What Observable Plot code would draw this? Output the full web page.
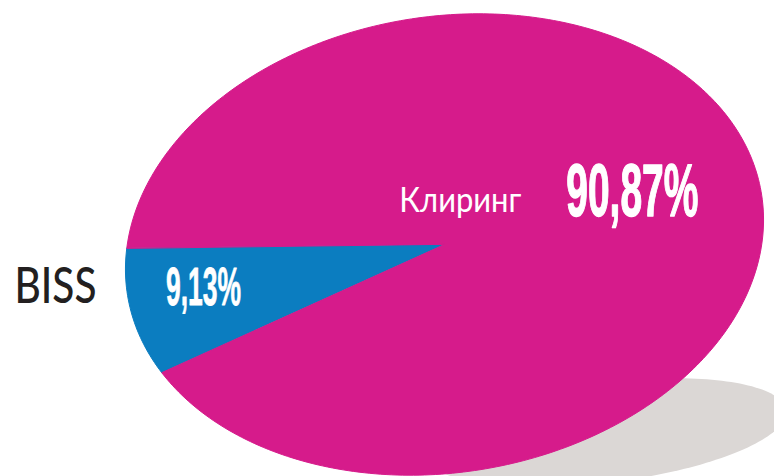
<!DOCTYPE html>
<html>
<head>
<meta charset="utf-8">
<script src="https://cdn.jsdelivr.net/npm/d3@7"></script>
<script src="https://cdn.jsdelivr.net/npm/@observablehq/plot@0.6"></script>
<style>
  html, body { margin: 0; padding: 0; background: #ffffff; }
  #chart svg { display: block; }
</style>
</head>
<body>
<div id="chart"></div>
<script>
// ---- data ----
const categories = ["BISS", "Клиринг"];
const shares = [9.13, 90.87];
const valueLabels = ["9,13%", "90,87%"];

// ---- styles / layout ----
const colors = ["#0b7dc0", "#d61b8b"];
const W = 774, H = 476;
const deg = Math.PI / 180;
const pieGeom = {cx: 444, cy: 244, a: 321, b: 228, tilt: 9 * deg, start: 168.3 * deg};
const shadowGeom = {cx: 605, cy: 432, a: 182, b: 50, tilt: 7 * deg, start: 0};
const valueRadius = [0.77, 0.6];
const valueDy = [-9, -11];
const valueSize = [53, 74];
const valueStroke = [0.8, 1.4];
const textWidths = [75, 132, 122, 82]; // small value, large value, inside category, outside category

function ellPoint(g, t, r = 1) {
  const u = r * g.a * Math.cos(t), v = r * g.b * Math.sin(t);
  const c = Math.cos(g.tilt), s = Math.sin(g.tilt);
  return [g.cx + u * c - v * s, g.cy - (u * s + v * c)];
}

// slices from the data
const total = d3.sum(shares);
let cum = 0;
const slices = categories.map((cat, i) => {
  const t0 = pieGeom.start + 2 * Math.PI * cum / total;
  cum += shares[i];
  const t1 = pieGeom.start + 2 * Math.PI * cum / total;
  return {cat, i, t0, t1, mid: (t0 + t1) / 2};
});

const slicePts = [];
for (const s of slices) {
  const [x0, y0] = ellPoint(pieGeom, 0, 0);
  slicePts.push({cat: s.cat, x: x0, y: y0});
  const n = Math.max(2, Math.ceil((s.t1 - s.t0) / deg));
  for (let k = 0; k <= n; ++k) {
    const [x, y] = ellPoint(pieGeom, s.t0 + (s.t1 - s.t0) * k / n);
    slicePts.push({cat: s.cat, x, y});
  }
}

const shadowPts = d3.range(0, 360, 2).map(d => {
  const [x, y] = ellPoint(shadowGeom, d * deg);
  return {x, y};
});

const valueData = slices.map(s => {
  const [x, y] = ellPoint(pieGeom, s.mid, valueRadius[s.i]);
  return {cat: s.cat, label: valueLabels[s.i], x, y};
});
const bissAnchor = ellPoint(pieGeom, slices[0].mid, 1);

const chart = Plot.plot({
  width: W,
  height: H,
  margin: 0,
  x: {domain: [0, W], axis: null},
  y: {domain: [H, 0], axis: null},
  color: {domain: categories, range: colors},
  style: {background: "#ffffff"},
  marks: [
    Plot.line(shadowPts, {x: "x", y: "y", fill: "#dbd7d5", stroke: "none", curve: "linear-closed"}),
    Plot.line(slicePts, {x: "x", y: "y", z: "cat", fill: "cat", stroke: "cat", strokeWidth: 1, curve: "linear-closed"}),
    Plot.text([valueData[0]], {x: "x", y: "y", text: "label", dy: valueDy[0], fill: "#ffffff",
      stroke: "#ffffff", strokeWidth: valueStroke[0],
      fontSize: valueSize[0], fontWeight: "bold", fontFamily: "Liberation Sans, Arial, sans-serif",
      textAnchor: "middle"}),
    Plot.text([valueData[1]], {x: "x", y: "y", text: "label", dy: valueDy[1], fill: "#ffffff",
      stroke: "#ffffff", strokeWidth: valueStroke[1],
      fontSize: valueSize[1], fontWeight: "bold", fontFamily: "Liberation Sans, Arial, sans-serif",
      textAnchor: "middle"}),
    Plot.text([valueData[1]], {x: "x", y: "y", text: "cat", dx: -111, dy: -2, fill: "#ffffff",
      fontSize: 34, fontFamily: "Lato, Open Sans, sans-serif", textAnchor: "end"}),
    Plot.text([{cat: categories[0], x: bissAnchor[0], y: bissAnchor[1]}], {x: "x", y: "y", text: "cat",
      dx: -35, dy: -26, fill: "#231f20", fontSize: 50, fontWeight: 500,
      fontFamily: "Lato, Open Sans, sans-serif", textAnchor: "end"})
  ]
});

// condense the labels horizontally (the reference uses condensed typefaces)
const textEls = Array.from(chart.querySelectorAll("text"));
textEls.forEach((el, i) => {
  if (i < textWidths.length) {
    el.setAttribute("textLength", textWidths[i]);
    el.setAttribute("lengthAdjust", "spacingAndGlyphs");
  }
});

document.getElementById("chart").appendChild(chart);
</script>
</body>
</html>
